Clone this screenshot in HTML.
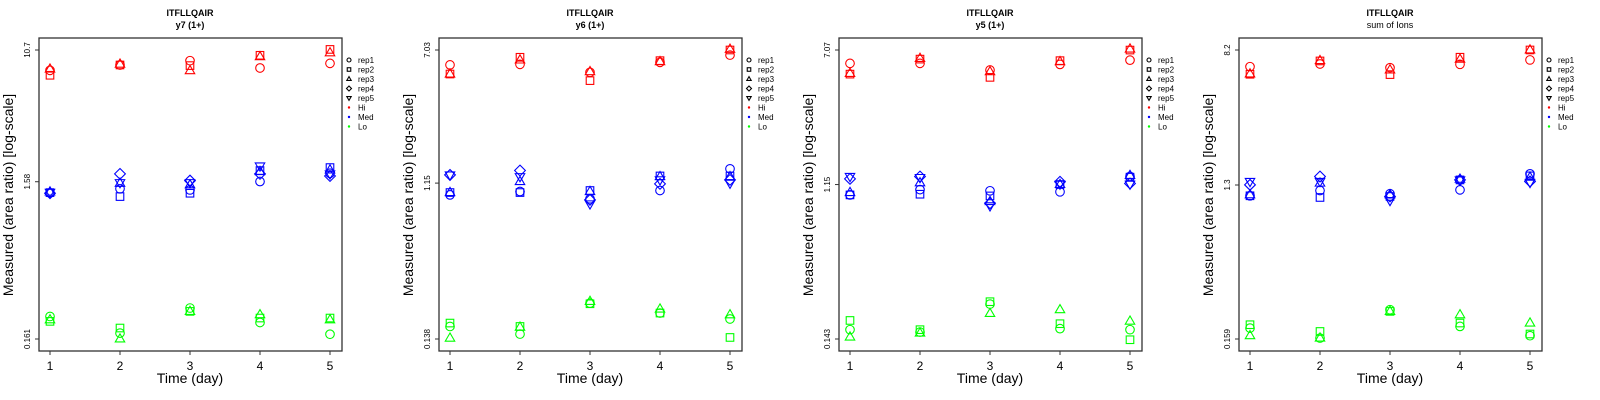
<!DOCTYPE html>
<html><head><meta charset="utf-8"><style>
html,body{margin:0;padding:0;background:#fff;}
svg{display:block;font-family:"Liberation Sans",sans-serif;}
</style></head><body>
<svg id="chart" width="1600" height="400" viewBox="0 0 1600 400" xmlns="http://www.w3.org/2000/svg"></svg>
<script>
// Data (log10 of measured area ratio), per panel: [day][rep]
const days = [1, 2, 3, 4, 5];
const reps = ["rep1", "rep2", "rep3", "rep4", "rep5"];
const levels = ["Hi", "Med", "Lo"];
const panelTitles = ["y7 (1+)", "y6 (1+)", "y5 (1+)", "sum of Ions"];
const yTickLabels = [["0.161", "1.58", "10.7"], ["0.138", "1.15", "7.03"], ["0.143", "1.15", "7.07"], ["0.159", "1.3", "8.2"]];

const p1Hi = [[0.901,0.870,0.909],[0.935,0.935,0.940],[0.962,0.931,0.899],[0.916,0.996,0.987],[0.945,1.033,1.012]];
const p1Med = [[0.128,0.130,0.134,0.126,0.132],[0.154,0.105,0.189,0.248,0.193],[0.147,0.126,0.179,0.206,0.193],[0.200,0.269,0.263,0.248,0.298],[0.252,0.288,0.273,0.235,0.248]];
const p1Lo = [[-0.651,-0.682,-0.672],[-0.756,-0.724,-0.793],[-0.598,-0.619,-0.619],[-0.689,-0.661,-0.640],[-0.763,-0.661,-0.672]];

const p2Hi = [[0.759,0.705,0.705],[0.762,0.804,0.788],[0.715,0.666,0.719],[0.774,0.784,0.778],[0.817,0.847,0.851]];
const p2Med = [[-0.009,0.005,0.005,0.109,0.109],[0.011,0.005,0.070,0.135,0.099],[-0.032,0.017,0.011,-0.038,-0.062],[0.017,0.103,0.099,0.056,0.080],[0.145,0.103,0.099,0.080,0.060]];
const p2Lo = [[-0.786,-0.766,-0.855],[-0.831,-0.786,-0.790],[-0.648,-0.652,-0.638],[-0.707,-0.707,-0.683],[-0.742,-0.851,-0.717]];

const p3Hi = [[0.771,0.708,0.712],[0.771,0.796,0.800],[0.732,0.689,0.722],[0.765,0.787,0.781],[0.790,0.849,0.855]];
const p3Med = [[0.000,0.000,0.014,0.094,0.108],[0.031,0.004,0.071,0.108,0.102],[0.024,-0.006,-0.039,-0.049,-0.064],[0.018,0.061,0.061,0.077,0.063],[0.108,0.104,0.114,0.067,0.063]];
const p3Lo = [[-0.790,-0.736,-0.833],[-0.804,-0.790,-0.810],[-0.640,-0.626,-0.695],[-0.784,-0.755,-0.673],[-0.790,-0.849,-0.740]];

const p4Hi = [[0.815,0.770,0.772],[0.831,0.849,0.851],[0.809,0.768,0.796],[0.829,0.871,0.859],[0.855,0.914,0.914]];
const p4Med = [[0.050,0.050,0.056,0.115,0.135],[0.081,0.040,0.125,0.164,0.135],[0.062,0.046,0.056,0.046,0.022],[0.085,0.144,0.148,0.144,0.144],[0.180,0.168,0.160,0.135,0.129]];
const p4Lo = [[-0.734,-0.714,-0.779],[-0.793,-0.754,-0.793],[-0.625,-0.635,-0.635],[-0.724,-0.704,-0.655],[-0.779,-0.769,-0.704]];

const panels = [[p1Hi,p1Med,p1Lo],[p2Hi,p2Med,p2Lo],[p3Hi,p3Med,p3Lo],[p4Hi,p4Med,p4Lo]];
const colors = ["#ff0000", "#0000ff", "#00ff00"];

const NS = "http://www.w3.org/2000/svg";
const svg = document.getElementById("chart");
function mk(tag, attrs, parent) {
  const e = document.createElementNS(NS, tag);
  for (const k in attrs) e.setAttribute(k, attrs[k]);
  (parent || svg).appendChild(e);
  return e;
}
function symbol(g, shape, cx, cy, s, color, sw) {
  let e;
  if (shape === 0) e = mk("circle", {cx: cx, cy: cy, r: s, fill: "none", stroke: color, "stroke-width": sw}, g);
  else if (shape === 1) e = mk("rect", {x: cx - s * 0.88, y: cy - s * 0.88, width: s * 1.76, height: s * 1.76, fill: "none", stroke: color, "stroke-width": sw}, g);
  else if (shape === 2) e = mk("polygon", {points: `${cx},${cy - s * 1.2} ${cx - s * 1.1},${cy + s * 0.7} ${cx + s * 1.1},${cy + s * 0.7}`, fill: "none", stroke: color, "stroke-width": sw}, g);
  else if (shape === 3) e = mk("polygon", {points: `${cx},${cy - s * 1.25} ${cx + s * 1.25},${cy} ${cx},${cy + s * 1.25} ${cx - s * 1.25},${cy}`, fill: "none", stroke: color, "stroke-width": sw}, g);
  else e = mk("polygon", {points: `${cx},${cy + s * 1.2} ${cx - s * 1.1},${cy - s * 0.7} ${cx + s * 1.1},${cy - s * 0.7}`, fill: "none", stroke: color, "stroke-width": sw}, g);
  return e;
}

panels.forEach((pd, pi) => {
  const ox = pi * 400;
  const g = mk("g", {});
  
  
  const labs = yTickLabels[pi];
  const lb = Math.log10(parseFloat(labs[0])), lt = Math.log10(parseFloat(labs[2]));
  const xS = d => ox + 50 + (d - 1) * 70;
  const yS = v => 339 - (v - lb) / (lt - lb) * 289;

  const t1 = mk("text", {x: ox + 190, y: 16, "text-anchor": "middle", "font-size": 9, "font-weight": "bold"}, g);
  t1.textContent = "ITFLLQAIR";
  
  
  const t2 = mk("text", {x: ox + 190, y: 28, "text-anchor": "middle", "font-size": 9, "font-weight": pi === 3 ? "normal" : "bold"}, g);
  t2.textContent = panelTitles[pi];
  
  

  const box = mk("rect", {x: ox + 39, y: 38, width: 303, height: 313, fill: "none", stroke: "#333", "stroke-width": 1.3}, g);
  
  

  days.forEach(d => {
    mk("line", {x1: xS(d), x2: xS(d), y1: 351, y2: 355, stroke: "#333"}, g);
    const tl = mk("text", {x: xS(d), y: 370, "text-anchor": "middle", "font-size": 12}, g);
    tl.textContent = d;
    
    
  });
  labs.forEach(l => {
    const yy = yS(Math.log10(parseFloat(l)));
    mk("line", {x1: ox + 35, x2: ox + 39, y1: yy, y2: yy, stroke: "#333"}, g);
    const tl = mk("text", {x: 0, y: 0, "text-anchor": "middle", "font-size": 8, transform: `translate(${ox + 30},${yy}) rotate(-90)`}, g);
    tl.textContent = l;
    
    
  });
  const xt = mk("text", {x: ox + 190, y: 383, "text-anchor": "middle", "font-size": 14}, g);
  xt.textContent = "Time (day)";
  
  
  const yt = mk("text", {x: 0, y: 0, "text-anchor": "middle", "font-size": 14, transform: `translate(${ox + 13},195) rotate(-90)`}, g);
  yt.textContent = "Measured (area ratio) [log-scale]";
  
  

  pd.forEach((lev, li) => {
    lev.forEach((vals, di) => {
      vals.forEach((v, ri) => {
        const m = symbol(g, ri, xS(days[di]), yS(v), 4.3, colors[li], 1.1);
        
        
      });
    });
  });

  const lg = mk("g", {}, g);
  
  
  const rowY = i => 60 + i * 9.5;
  reps.forEach((r, i) => {
    symbol(lg, i, ox + 349, rowY(i), 2, "#000", 1.1);
    const tx = mk("text", {x: ox + 358, y: rowY(i) + 3, "font-size": 8}, lg);
    tx.textContent = r;
    
    
  });
  levels.forEach((l, i) => {
    mk("circle", {cx: ox + 349, cy: rowY(5 + i), r: 1.2, fill: colors[i]}, lg);
    const tx = mk("text", {x: ox + 358, y: rowY(5 + i) + 3, "font-size": 8}, lg);
    tx.textContent = l;
    
    
  });
});
</script>
</body></html>
